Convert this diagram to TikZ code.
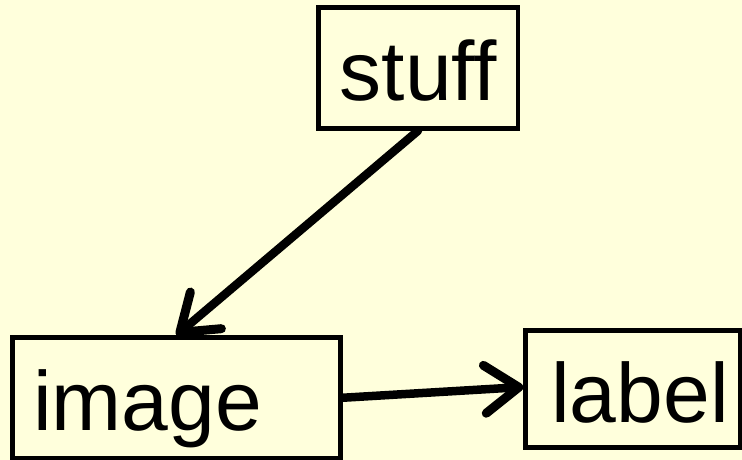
\documentclass[tikz,border=0pt]{standalone}
\usepackage{fontspec}
\setmainfont{Liberation Sans}
\usetikzlibrary{arrows.meta}
\definecolor{bgyellow}{RGB}{255,255,220}
\tikzset{
  boxnode/.style={draw=black, line width=4.5pt, rectangle, inner sep=0pt, fill=none},
  bigtext/.style={inner sep=0pt, anchor=base, font=\fontsize{84}{90}\selectfont},
  conn/.style={line width=8.5pt, line cap=round, -{Straight Barb[length=34pt,width=48pt,round,line width=9pt]}}
}
\begin{document}
\begin{tikzpicture}[x=1pt,y=-1pt]
  \fill[bgyellow] (0,0) rectangle (742,460);
  \useasboundingbox (0,0) rectangle (742,460);
  % boxes
  \node[boxnode, minimum width=199.5pt, minimum height=121pt] (stuff) at (418,68) {};
  \node[boxnode, minimum width=328pt, minimum height=120.5pt] (image) at (176.5,397.75) {};
  \node[boxnode, minimum width=214.5pt, minimum height=117pt] (label) at (632.75,389) {};
  % texts
  \node[bigtext] (stufftext) at (418.5,100) {stuff};
  \node[bigtext] (imagetext) at (147.5,430) {image};
  \node[bigtext] (labeltext) at (640,422) {label};
  % connectors
  \coordinate (a1s) at (stuff.south);
  \coordinate (a1e) at (image.north);
  \coordinate (a2s) at ([yshift=0pt]image.east);
  \coordinate (a2e) at ([yshift=2pt]label.west);
  \draw[conn] (a1s) -- (a1e);
  \draw[conn] (a2s) -- (a2e);
\end{tikzpicture}
\end{document}
